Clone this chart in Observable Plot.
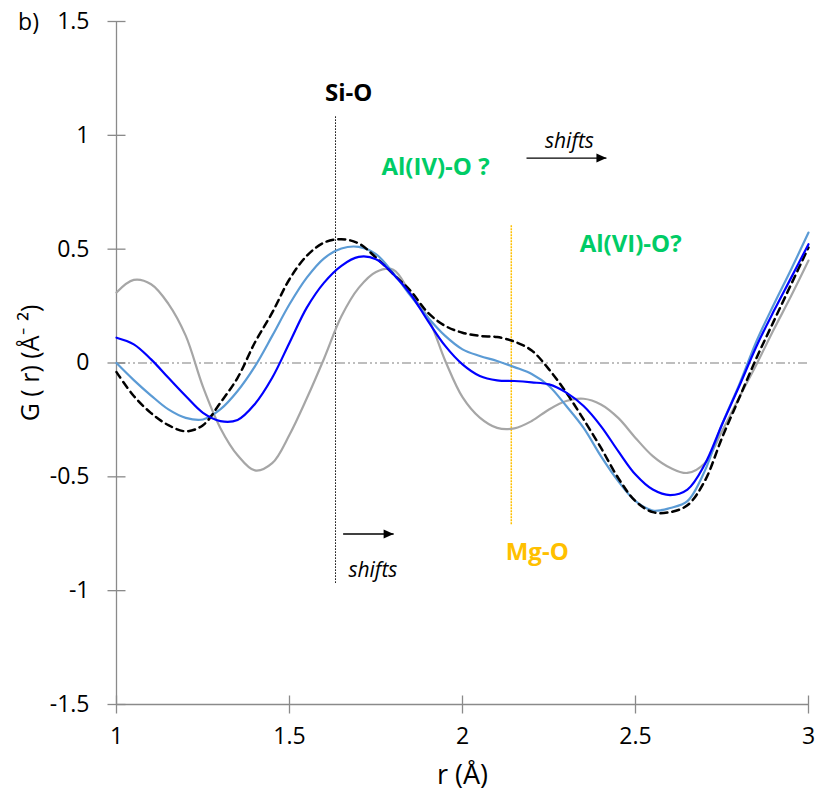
<!DOCTYPE html>
<html>
<head>
<meta charset="utf-8">
<script src="https://cdn.jsdelivr.net/npm/d3@7"></script>
<script src="https://cdn.jsdelivr.net/npm/@observablehq/plot@0.6"></script>
<style>
  html, body { margin: 0; padding: 0; background: #fff; }
  #chart { width: 817px; height: 798px; }
</style>
</head>
<body>
<div id="chart"></div>
<script>
// ---- data ----
const rValues = [1.00,1.05,1.10,1.15,1.20,1.25,1.30,1.35,1.40,1.45,1.50,1.55,1.60,1.65,1.70,1.75,1.80,1.85,1.90,1.95,
                 2.00,2.05,2.10,2.15,2.20,2.25,2.30,2.35,2.40,2.45,2.50,2.55,2.60,2.65,2.70,2.75,2.80,2.85,2.90,2.95,3.00];

const grayG = [0.31,0.365,0.346,0.26,0.12,-0.105,-0.285,-0.405,-0.472,-0.44,-0.315,-0.155,0.02,0.205,0.33,0.40,0.41,0.305,0.20,0.01,
               -0.15,-0.24,-0.285,-0.287,-0.255,-0.204,-0.167,-0.157,-0.182,-0.241,-0.329,-0.409,-0.46,-0.483,-0.44,-0.30,-0.15,-0.005,0.148,0.295,0.45];

const blackG = [-0.04,-0.145,-0.22,-0.273,-0.30,-0.273,-0.175,-0.065,0.09,0.221,0.368,0.471,0.529,0.544,0.525,0.463,0.39,0.317,0.221,0.163,
                0.133,0.119,0.114,0.094,0.055,-0.028,-0.13,-0.248,-0.372,-0.505,-0.607,-0.655,-0.655,-0.625,-0.519,-0.329,-0.153,0.023,0.185,0.346,0.507];

const lightBlueG = [0.0,-0.075,-0.143,-0.204,-0.241,-0.248,-0.204,-0.123,-0.015,0.119,0.258,0.375,0.46,0.503,0.51,0.478,0.395,0.295,0.2,0.119,
                    0.06,0.031,0.009,-0.018,-0.048,-0.101,-0.189,-0.285,-0.409,-0.519,-0.607,-0.648,-0.637,-0.607,-0.475,-0.27,-0.094,0.097,0.258,0.412,0.573];

const blueG = [0.111,0.082,0.016,-0.065,-0.145,-0.219,-0.255,-0.25,-0.18,-0.065,0.089,0.243,0.353,0.427,0.466,0.456,0.39,0.302,0.185,0.075,
               -0.006,-0.057,-0.076,-0.079,-0.085,-0.094,-0.13,-0.189,-0.277,-0.387,-0.49,-0.556,-0.58,-0.556,-0.446,-0.27,-0.101,0.075,0.229,0.375,0.522];

const xTicks = [1, 1.5, 2, 2.5, 3];
const yTicks = [-1.5, -1, -0.5, 0, 0.5, 1, 1.5];
const xTickLabels = ["1", "1.5", "2", "2.5", "3"];
const yTickLabels = ["-1.5", "-1", "-0.5", "0", "0.5", "1", "1.5"];

// reference lines (r position, G extent)
const siOLine = {r: 1.633, g1: -0.968, g2: 1.087};
const mgOLine = {r: 2.141, g1: -0.71, g2: 0.603};

// annotations
const labelSiO = {text: "Si-O", r: 1.671, g: 1.183};
const labelAlIV = {text: "Al(IV)-O ?", r: 1.922, g: 0.859};
const labelAlVI = {text: "Al(VI)-O?", r: 2.486, g: 0.523};
const labelMgO = {text: "Mg-O", r: 2.216, g: -0.831};
const shiftTexts = [{text: "shifts", r: 2.309, g: 0.975}, {text: "shifts", r: 1.741, g: -0.91}];
const shiftArrows = [{r1: 2.185, r2: 2.416, g: 0.900}, {r1: 1.655, r2: 1.801, g: -0.751}];

// ---- build tables ----
const toRows = (vals) => rValues.map((r, i) => ({r, g: vals[i]}));
const gray = toRows(grayG), black = toRows(blackG), lightBlue = toRows(lightBlueG), blue = toRows(blueG);

const axisColor = "#8a8a8a";
const font = "Open Sans, Lato, sans-serif";

const hTick = {draw(ctx, size) { const s = Math.sqrt(size / Math.PI); ctx.moveTo(-s, 0); ctx.lineTo(s, 0); }};
const vTick = {draw(ctx, size) { const s = Math.sqrt(size / Math.PI); ctx.moveTo(0, -s); ctx.lineTo(0, s); }};
const arrowHead = {draw(ctx, size) { ctx.moveTo(0, 0); ctx.lineTo(-10, -4.5); ctx.lineTo(-10, 4.5); ctx.closePath(); }};

const chart = Plot.plot({
  width: 817,
  height: 798,
  marginLeft: 116,
  marginRight: 9,
  marginTop: 21,
  marginBottom: 94,
  style: {fontFamily: font, background: "#fff", color: "#000"},
  x: {domain: [1, 3]},
  y: {domain: [-1.5, 1.5]},
  marks: [
    // axes lines
    Plot.ruleX([1], {stroke: axisColor, strokeWidth: 1.3}),
    Plot.ruleY([-1.5], {stroke: axisColor, strokeWidth: 1.3}),
    Plot.dot(yTicks, {x: () => 1, y: d => d, symbol: hTick, r: 9, stroke: axisColor, strokeWidth: 1.3, fill: "none"}),
    Plot.dot(xTicks, {x: d => d, y: () => -1.5, symbol: vTick, r: 9, stroke: axisColor, strokeWidth: 1.3, fill: "none"}),
    Plot.axisX({ticks: xTicks, tickFormat: (d) => xTickLabels[xTicks.indexOf(d)], tickSize: 0, tickPadding: 23, fontSize: 23, label: null}),
    Plot.axisY({ticks: yTicks, tickFormat: (d) => yTickLabels[yTicks.indexOf(d)], tickSize: 0, tickPadding: 27, fontSize: 23, label: null}),
    // zero line
    Plot.ruleY([0], {stroke: "#7f7f7f", strokeWidth: 1.2, strokeDasharray: "9,3,2,3,2,3"}),
    // reference vertical lines
    Plot.ruleX([siOLine], {x: "r", y1: "g1", y2: "g2", stroke: "#000", strokeWidth: 1, strokeDasharray: "1.5,1.5"}),
    Plot.ruleX([mgOLine], {x: "r", y1: "g1", y2: "g2", stroke: "#ffc000", strokeWidth: 1.5, strokeDasharray: "2,1"}),
    // curves
    Plot.line(gray, {x: "r", y: "g", stroke: "#a6a6a6", strokeWidth: 2.2, curve: "catmull-rom"}),
    Plot.line(lightBlue, {x: "r", y: "g", stroke: "#5b9bd5", strokeWidth: 2.2, curve: "catmull-rom"}),
    Plot.line(black, {x: "r", y: "g", stroke: "#000", strokeWidth: 2.5, strokeDasharray: "7,5", curve: "catmull-rom"}),
    Plot.line(blue, {x: "r", y: "g", stroke: "#0000ff", strokeWidth: 2.2, curve: "catmull-rom"}),
    // annotations
    Plot.text([labelSiO], {x: "r", y: "g", text: "text", fill: "#000", fontWeight: "bold", fontSize: 24}),
    Plot.text([labelAlIV], {x: "r", y: "g", text: "text", fill: "#00cc66", fontWeight: "bold", fontSize: 24}),
    Plot.text([labelAlVI], {x: "r", y: "g", text: "text", fill: "#00cc66", fontWeight: "bold", fontSize: 24}),
    Plot.text([labelMgO], {x: "r", y: "g", text: "text", fill: "#ffc000", fontWeight: "bold", fontSize: 24}),
    Plot.text(shiftTexts, {x: "r", y: "g", text: "text", fill: "#000", fontStyle: "italic", fontSize: 21}),
    Plot.link(shiftArrows, {x1: "r1", x2: "r2", y1: "g", y2: "g", stroke: "#000", strokeWidth: 1.3}),
    Plot.dot(shiftArrows, {x: "r2", y: "g", symbol: arrowHead, r: 5, fill: "#000", stroke: "none"}),
    // axis titles
    Plot.text(["r (Å)"], {x: () => 2, y: () => -1.5, dy: 71, lineAnchor: "middle", textAnchor: "middle", fontSize: 27, fill: "#000"}),
    Plot.text(["G ( r) (Å⁻ ²)"], {x: () => 1, y: () => 0, dx: -86, rotate: -90, textAnchor: "middle", lineAnchor: "middle", fontSize: 25, fill: "#000"}),
    Plot.text(["b)"], {x: () => 1, y: () => 1.5, dx: -88, dy: 1, textAnchor: "middle", lineAnchor: "middle", fontSize: 23, fill: "#000"})
  ]
});
document.getElementById("chart").appendChild(chart);
</script>
</body>
</html>
